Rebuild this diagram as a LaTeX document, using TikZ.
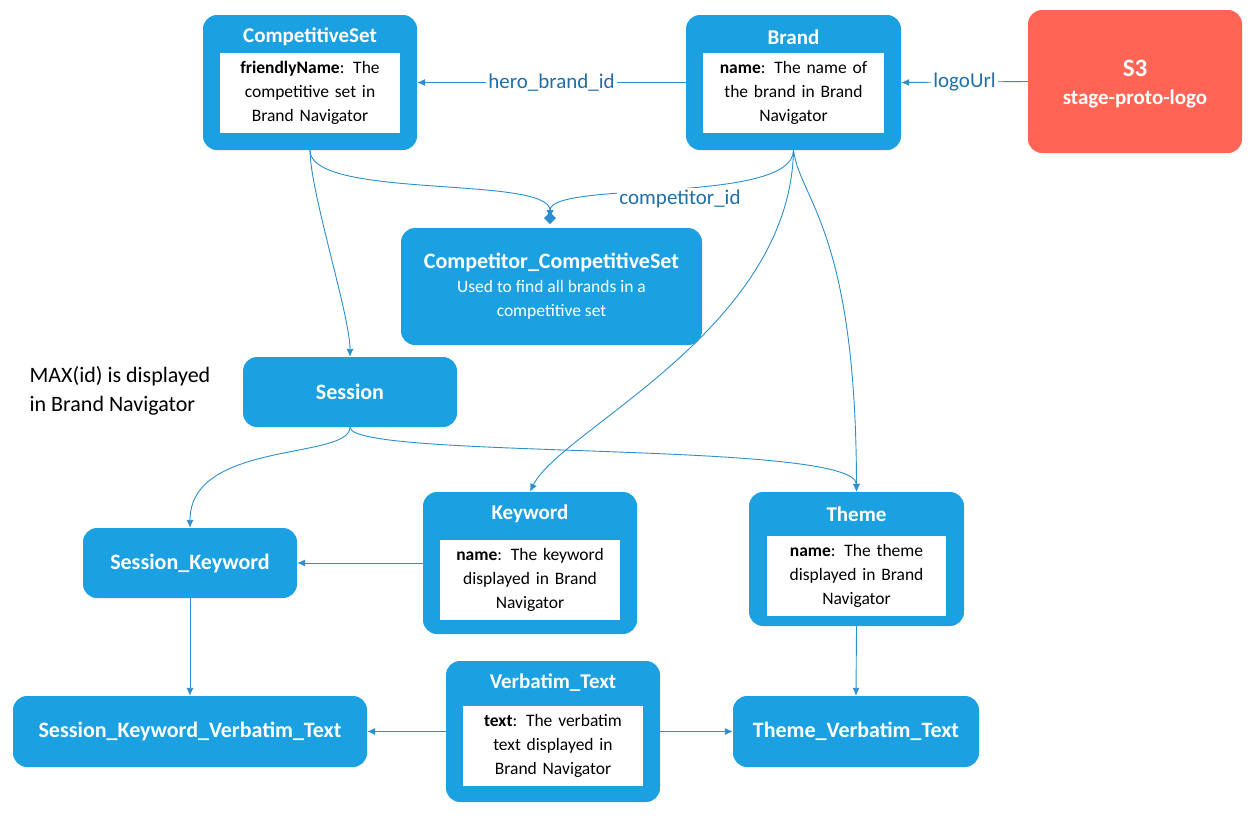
\documentclass[tikz,border=0pt]{standalone}
\usepackage{fontspec}
\setmainfont{Carlito}
\usetikzlibrary{arrows.meta}
\definecolor{bfill}{HTML}{1BA1E2}
\definecolor{lcol}{HTML}{2B8FCB}
\definecolor{tcol}{HTML}{1F6FA8}
\definecolor{sred}{HTML}{FF6454}
\begin{document}
\begin{tikzpicture}[x=1pt,y=-1pt,
 box/.style={draw=none,fill=bfill,rounded corners=14pt,inner sep=0pt},
 ttl/.style={text=white,font=\fontsize{21}{25}\selectfont\bfseries,align=center},
 big/.style={text=white,font=\fontsize{22}{26}\selectfont\bfseries,align=center},
 inner/.style={fill=white,inner sep=0pt,align=center,font=\fontsize{17.5}{24}\selectfont},
 con/.style={draw=lcol,line width=0.9pt,-{Latex[length=8pt,width=7pt]}},
 lab/.style={fill=white,text=tcol,font=\fontsize{21}{25}\selectfont,inner sep=2pt}]
\useasboundingbox (0,0) rectangle (1253,815);
% CompetitiveSet
\node[box,minimum width=214,minimum height=135] (cs) at (310,82.5) {};
\node[ttl] (cst) at (310,37) {CompetitiveSet};
\node[inner,minimum width=180,minimum height=80,text width=178] (csi) at (310,93) {\textbf{friendlyName}: The\\competitive set in\\Brand Navigator};
% Brand
\node[box,minimum width=215,minimum height=135] (br) at (793.5,82.5) {};
\node[ttl] (brt) at (793.5,37) {Brand};
\node[inner,minimum width=181,minimum height=80,text width=178] (bri) at (793.5,93) {\textbf{name}: The name of\\the brand in Brand\\Navigator};
% S3
\node[box,fill=sred,minimum width=214,minimum height=143] (s3) at (1135,81.5) {};
\node[ttl,font=\fontsize{25}{30}\selectfont\bfseries] (s3t) at (1135,68) {S3};
\node[ttl] (s3b) at (1135,99) {stage-proto-logo};
% Competitor_CompetitiveSet
\node[box,minimum width=301,minimum height=117,text=white,align=center,font=\fontsize{17.5}{24}\selectfont] (cc) at (551.5,286.5) {{\fontsize{22}{26}\selectfont\bfseries Competitor\_CompetitiveSet}\\Used to find all brands in a\\competitive set};
% Session
\node[box,minimum width=214,minimum height=70,big] (se) at (350,392) {Session};
\node[align=left,font=\fontsize{22}{29}\selectfont] (max) at (120,391) {MAX(id) is displayed\\in Brand Navigator};
% Session_Keyword
\node[box,minimum width=214,minimum height=70,big] (sk) at (190,563) {Session\_Keyword};
% Keyword
\node[box,minimum width=214,minimum height=142] (kw) at (530,563) {};
\node[ttl] (kwt) at (530,514) {Keyword};
\node[inner,minimum width=180,minimum height=80,text width=178] (kwi) at (530,580) {\textbf{name}: The keyword\\displayed in Brand\\Navigator};
% Theme
\node[box,minimum width=215,minimum height=134] (th) at (856.5,559) {};
\node[ttl] (tht) at (856.5,514) {Theme};
\node[inner,minimum width=179,minimum height=80,text width=178] (thi) at (856.5,576) {\textbf{name}: The theme\\displayed in Brand\\Navigator};
% SKVT
\node[box,minimum width=354,minimum height=71,big] (skv) at (190,731.5) {Session\_Keyword\_Verbatim\_Text};
% Verbatim_Text
\node[box,minimum width=214,minimum height=141] (vt) at (553,731.5) {};
\node[ttl] (vtt) at (553,683) {Verbatim\_Text};
\node[inner,minimum width=180,minimum height=80,text width=178] (vti) at (553,746) {\textbf{text}: The verbatim\\text displayed in\\Brand Navigator};
% TVT
\node[box,minimum width=246,minimum height=71,big] (tvt) at (856,731.5) {Theme\_Verbatim\_Text};
% connectors
\coordinate (dm) at (550,218);
\draw[con] (br.west) -- node[lab]{hero\_brand\_id} (cs.east);
\draw[con] (s3.west) -- node[lab]{logoUrl} (br.east);
\draw[con] (cs.south) to[out=-90,in=90,looseness=0.5] (se.north);
\draw[con] (cs.south) .. controls (310,200) and (550,175) .. (dm);
\draw[con] (br.south) .. controls (793,205) and (550,180) .. (dm);
\node[lab] (cid) at (680,199) {competitor\_id};
\fill[lcol] (550,212) -- (556,218) -- (550,224) -- (544,218) -- cycle;
\draw[con] (br.south) .. controls (790,330) and (560,430) .. (kw.north);
\draw[con] (br.south) .. controls (800,200) and (856,230) .. (th.north);
\draw[con] (se.south) .. controls (350,460) and (190,440) .. (sk.north);
\draw[con] (se.south) .. controls (350,460) and (856,440) .. (th.north);
\draw[con] (kw.west |- sk.east) -- (sk.east);
\draw[con] (sk.south) -- (skv.north);
\draw[con] (vt.west) -- (skv.east);
\draw[con] (vt.east) -- (tvt.west);
\draw[con] (th.south) -- (tvt.north);
\end{tikzpicture}
\end{document}
